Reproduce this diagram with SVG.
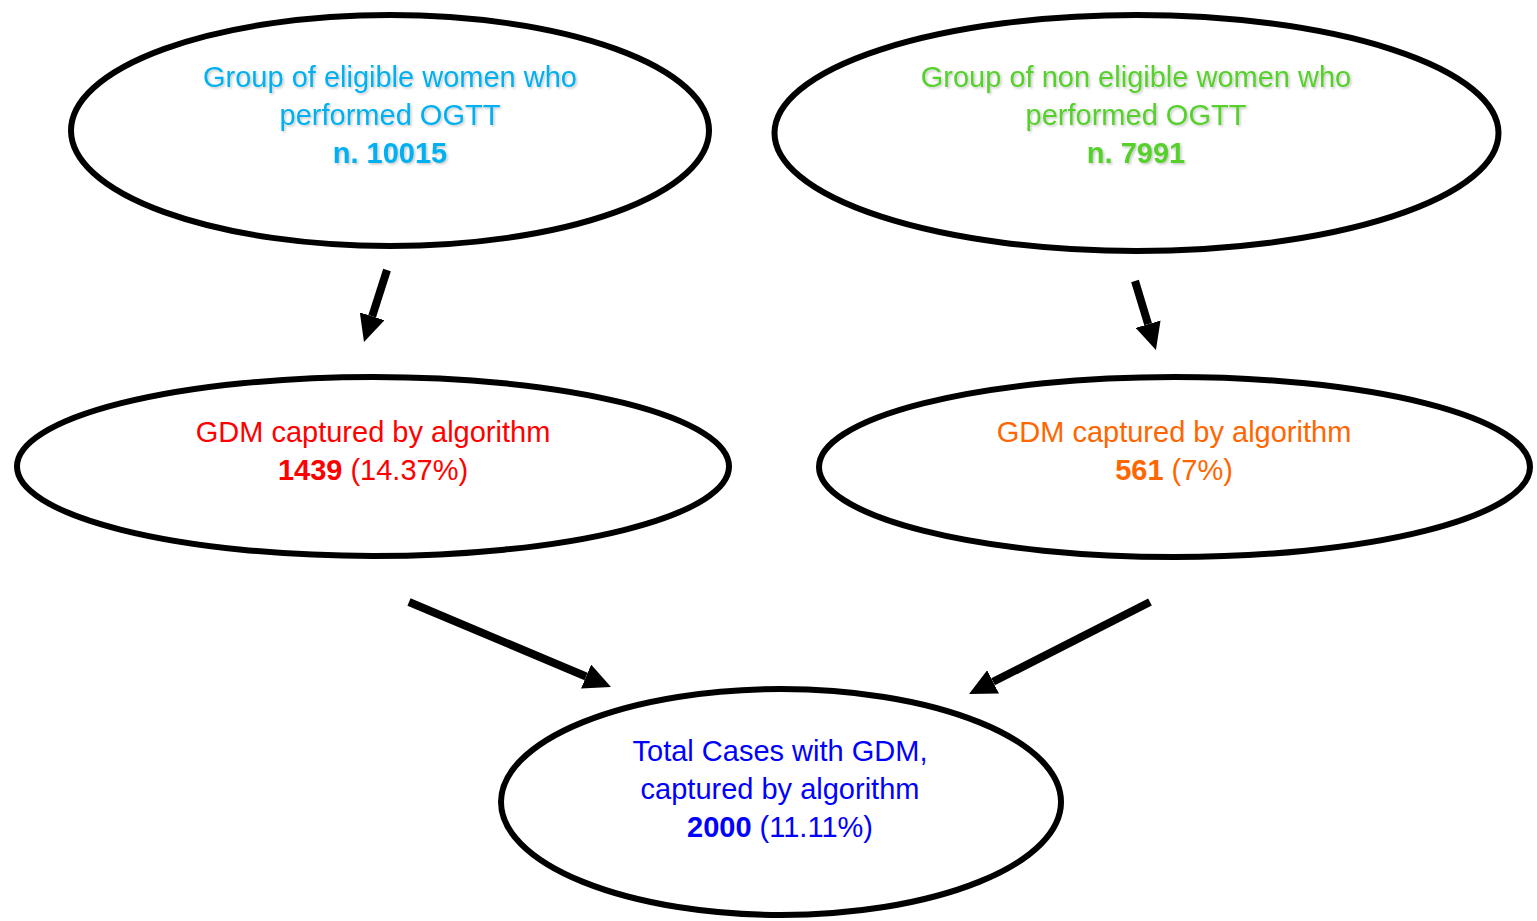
<svg xmlns="http://www.w3.org/2000/svg" width="1537" height="921" viewBox="0 0 1537 921">
  <defs>
    <filter id="shadow" x="-10%" y="-20%" width="120%" height="150%">
      <feDropShadow dx="1.5" dy="1.5" stdDeviation="1" flood-color="#000" flood-opacity="0.22"/>
    </filter>
    <marker id="head" markerUnits="userSpaceOnUse" markerWidth="27" markerHeight="26" refX="0" refY="13" orient="auto" viewBox="0 0 27 26">
      <path d="M0,0 L27,13 L0,26 Z" fill="#000"/>
    </marker>
  </defs>
  <style>
    .node { fill: #fff; stroke: #000; stroke-width: 6; }
    text { font-family: "Liberation Sans", Arial, sans-serif; font-size: 29px; text-anchor: middle; }
    .b { font-weight: bold; }
    .cyan { fill: #00B0F0; }
    .green { fill: #56D02C; }
    .red { fill: #FF0000; }
    .orange { fill: #FF6600; }
    .blue { fill: #0000FF; }
    .edge { stroke: #000; stroke-width: 8; fill: none; marker-end: url(#head); }
  </style>
  <rect width="1537" height="921" fill="#fff"/>

  <g id="eligible">
    <ellipse class="node" cx="390" cy="130.5" rx="319" ry="115.5"/>
    <g class="cyan" filter="url(#shadow)">
      <text x="390" y="87">Group of eligible women who</text>
      <text x="390" y="125">performed OGTT</text>
      <text x="390" y="163" class="b">n. 10015</text>
    </g>
  </g>

  <g id="noneligible">
    <ellipse class="node" cx="1136.5" cy="133" rx="362" ry="118"/>
    <g class="green" filter="url(#shadow)">
      <text x="1136" y="87">Group of non eligible women who</text>
      <text x="1136" y="125">performed OGTT</text>
      <text x="1136" y="163" class="b">n. 7991</text>
    </g>
  </g>

  <g id="gdm-eligible">
    <ellipse class="node" cx="373" cy="466.5" rx="356" ry="89.5"/>
    <g class="red">
      <text x="373" y="442">GDM captured by algorithm</text>
      <text x="373" y="480"><tspan class="b">1439</tspan> (14.37%)</text>
    </g>
  </g>

  <g id="gdm-noneligible">
    <ellipse class="node" cx="1174.5" cy="467" rx="355.5" ry="90"/>
    <g class="orange">
      <text x="1174" y="442">GDM captured by algorithm</text>
      <text x="1174" y="480"><tspan class="b">561</tspan> (7%)</text>
    </g>
  </g>

  <g id="total">
    <ellipse class="node" cx="781" cy="802" rx="280" ry="113"/>
    <g class="blue">
      <text x="780" y="761">Total Cases with GDM,</text>
      <text x="780" y="799">captured by algorithm</text>
      <text x="780" y="837"><tspan class="b">2000</tspan> (11.11%)</text>
    </g>
  </g>

  <g id="connectors">
    <line class="edge" x1="387" y1="270" x2="372.2" y2="316.3"/>
    <line class="edge" x1="1135" y1="281" x2="1148.1" y2="324.2"/>
    <line class="edge" x1="409" y1="602" x2="586.1" y2="676.5"/>
    <line class="edge" x1="1150" y1="602" x2="993.1" y2="681.8"/>
  </g>
</svg>
